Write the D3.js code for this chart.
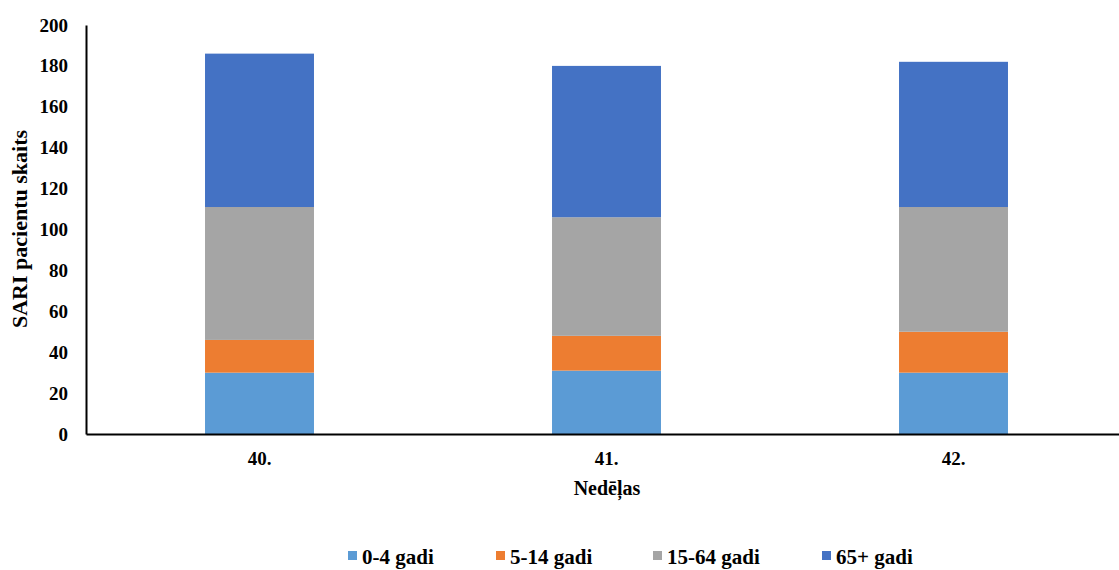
<!DOCTYPE html>
<html><head><meta charset="utf-8">
<script src="https://cdn.jsdelivr.net/npm/d3@7/dist/d3.min.js"></script>
<style>body{margin:0;background:#fff}</style>
</head><body><svg id="c" width="1119" height="570"></svg>
<script>
const weeks = ["40.", "41.", "42."];
const seriesNames = ["0-4 gadi", "5-14 gadi", "15-64 gadi", "65+ gadi"];
const colors = ["#5b9bd5", "#ed7d31", "#a5a5a5", "#4472c4"];
const v0_4 = [30, 31, 30];
const v5_14 = [16, 17, 20];
const v15_64 = [65, 58, 61];
const v65 = [75, 74, 71];
const yTicks = [0, 20, 40, 60, 80, 100, 120, 140, 160, 180, 200];

const FF = "Liberation Serif, Tinos, DejaVu Serif, serif";
const rows = weeks.map((w, i) => ({week: w, "0-4 gadi": v0_4[i], "5-14 gadi": v5_14[i], "15-64 gadi": v15_64[i], "65+ gadi": v65[i]}));
const svg = d3.select("#c");
const x = d3.scaleBand().domain(weeks).range([86, 1127]).paddingInner(0.686).paddingOuter(0.343);
const y = d3.scaleLinear().domain([0, 200]).range([434, 25]);
const stack = d3.stack().keys(seriesNames)(rows);

svg.append("g").selectAll("g").data(stack).join("g").attr("fill", (d, i) => colors[i])
  .selectAll("rect").data(d => d).join("rect")
  .attr("x", d => x(d.data.week)).attr("width", x.bandwidth())
  .attr("y", d => y(d[1])).attr("height", d => y(d[0]) - y(d[1]));

function styleText(sel, size) {
  sel.attr("font-family", FF).style("font-family", FF).style("font-weight", "bold").style("font-size", size + "px").attr("fill", "#000");
}
// y axis
const ya = svg.append("g").attr("transform", "translate(86,0)").call(d3.axisLeft(y).tickValues(yTicks).tickSize(0).tickPadding(18));
ya.attr("font-family", FF);
ya.select(".domain").attr("stroke", "#000").attr("stroke-width", 2);
styleText(ya.selectAll("text"), 19);
// x axis
const xa = svg.append("g").attr("transform", "translate(0,434)").call(d3.axisBottom(x).tickSize(0).tickPadding(18));
xa.attr("font-family", FF);
xa.select(".domain").attr("stroke", "#000").attr("stroke-width", 2);
styleText(xa.selectAll("text"), 19);

styleText(svg.append("text").attr("transform", "translate(27,229) rotate(-90)").attr("text-anchor", "middle").text("SARI pacientu skaits"), 22);
styleText(svg.append("text").attr("x", 607).attr("y", 495).attr("text-anchor", "middle").text("Nedēļas"), 20);

const legX = [348, 496, 653, 822];
const leg = svg.append("g").selectAll("g").data(seriesNames).join("g")
  .attr("transform", (d, i) => `translate(${legX[i]},564)`);
leg.append("rect").attr("x", 0).attr("y", -13).attr("width", 9).attr("height", 9).attr("fill", (d, i) => colors[i]);
styleText(leg.append("text").attr("x", 14).attr("y", 0).text(d => d), 21);
</script></body></html>
